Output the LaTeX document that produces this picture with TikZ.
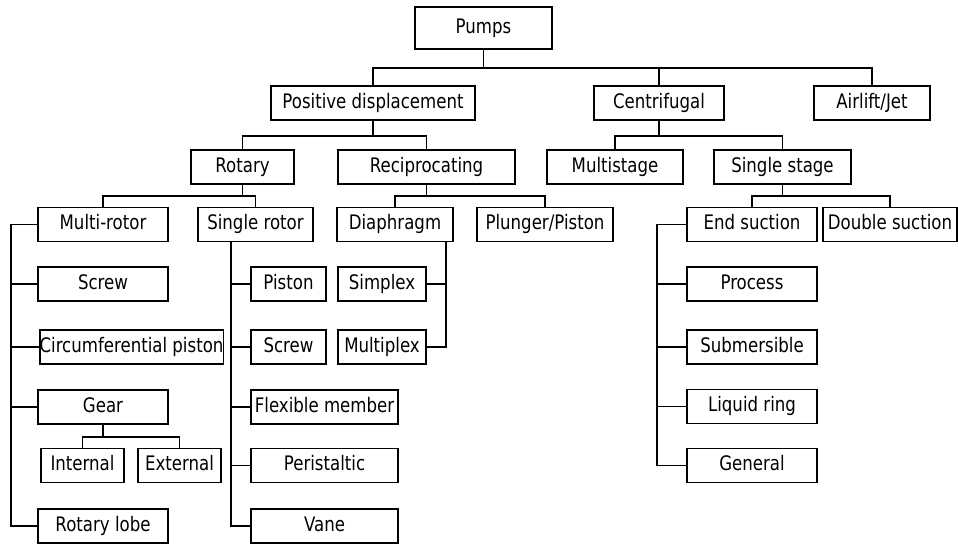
\documentclass[tikz,border=0pt]{standalone}
\usepackage{fontspec}
\setmainfont[FakeStretch=0.83]{DejaVu Sans}
\usetikzlibrary{calc}

\begin{document}
\begin{tikzpicture}[
  x=1pt,y=-1pt,
  box/.style={draw,line width=1.9pt,inner sep=0pt,minimum height=34pt,
    text height=14pt,text depth=3.5pt,font=\fontsize{20}{23}\selectfont},
  link/.style={line width=1.9pt},
]
  \useasboundingbox (0,0) rectangle (958,544);
  % Root
  \node[box,minimum width=137pt,minimum height=42pt] (pumps) at (483.5,28) {Pumps};
  % Level 1
  \node[box,minimum width=204pt] (pd) at (373,103) {Positive displacement};
  \node[box,minimum width=130pt] (cent) at (659,103) {Centrifugal};
  \node[box,minimum width=116pt] (air) at (872,103) {Airlift/Jet};
  % Level 2
  \node[box,minimum width=103pt] (rot) at (242.5,167) {Rotary};
  \node[box,minimum width=177pt] (recip) at (426.5,167) {Reciprocating};
  \node[box,minimum width=136pt] (multi) at (615,167) {Multistage};
  \node[box,minimum width=137pt] (single) at (782.5,167) {Single stage};
  % Level 3
  \node[box,minimum width=130pt] (mr) at (103,224.5) {Multi-rotor};
  \node[box,minimum width=115pt] (sr) at (255.5,224.5) {Single rotor};
  \node[box,minimum width=116pt] (dia) at (395,224.5) {Diaphragm};
  \node[box,minimum width=136pt] (plunger) at (545,224.5) {Plunger/Piston};
  \node[box,minimum width=130pt] (endsuc) at (752,224.5) {End suction};
  \node[box,minimum width=134pt] (dblsuc) at (890,224.5) {Double suction};
  % Multi-rotor types
  \node[box,minimum width=130pt] (screwA) at (103,284) {Screw};
  \node[box,minimum width=183pt] (circ) at (131.5,347) {Circumferential piston};
  \node[box,minimum width=130pt] (gear) at (103,407) {Gear};
  \node[box,minimum width=83pt] (internal) at (82.5,465.5) {Internal};
  \node[box,minimum width=83pt] (external) at (179.5,465.5) {External};
  \node[box,minimum width=130pt] (lobe) at (103,526) {Rotary lobe};
  % Single rotor types
  \node[box,minimum width=75pt] (piston) at (288.5,284) {Piston};
  \node[box,minimum width=75pt] (screwB) at (288.5,347) {Screw};
  \node[box,minimum width=147pt] (flex) at (324.5,407) {Flexible member};
  \node[box,minimum width=147pt] (peri) at (324.5,465.5) {Peristaltic};
  \node[box,minimum width=147pt] (vane) at (324.5,526) {Vane};
  % Diaphragm types
  \node[box,minimum width=88pt] (simplex) at (382,284) {Simplex};
  \node[box,minimum width=88pt] (multiplex) at (382,347) {Multiplex};
  % End suction types
  \node[box,minimum width=130pt] (process) at (752,284) {Process};
  \node[box,minimum width=130pt] (submers) at (752,347) {Submersible};
  \node[box,minimum width=130pt] (liquid) at (752,406.5) {Liquid ring};
  \node[box,minimum width=130pt] (general) at (752,465.5) {General};

  % Tree links
  \draw[link] (pumps.south) -- ++(0,18) coordinate (b0);
  \draw[link] (pd.north) |- (b0) -| (air.north);
  \draw[link] (b0 -| cent.north) -- (cent.north);
  \draw[link] (pd.south) -- ++(0,15) coordinate (b1);
  \draw[link] (rot.north) |- (b1) -| (recip.north);
  \draw[link] (cent.south) -- ++(0,15) coordinate (b2);
  \draw[link] (multi.north) |- (b2) -| (single.north);
  \draw[link] (rot.south) -- ++(0,11) coordinate (b3);
  \draw[link] (mr.north) |- (b3) -| (sr.north);
  \draw[link] (recip.south) -- ++(0,11) coordinate (b4);
  \draw[link] (dia.north) |- (b4) -| (plunger.north);
  \draw[link] (single.south) -- ++(0,11) coordinate (b5);
  \draw[link] (endsuc.north) |- (b5) -| (dblsuc.north);
  \draw[link] (gear.south) -- ++(0,12) coordinate (b6);
  \draw[link] (internal.north) |- (b6) -| (external.north);

  % Side rails
  \draw[link] (mr.west) -- ++(-26,0) coordinate (l1) |- (lobe.west);
  \foreach \n in {screwA,circ,gear}
    \draw[link] (\n.west) -- (\n.west -| l1);
  \coordinate (l2) at ($(piston.west)+(-19,0)$);
  \draw[link] (sr.south -| l2) |- (vane.west);
  \foreach \n in {piston,screwB,flex,peri}
    \draw[link] (\n.west) -- (\n.west -| l2);
  \coordinate (l3) at ($(simplex.east)+(19,0)$);
  \draw[link] (dia.south -| l3) |- (multiplex.east);
  \draw[link] (simplex.east) -- (simplex.east -| l3);
  \draw[link] (endsuc.west) -- ++(-29,0) coordinate (l4) |- (general.west);
  \foreach \n in {process,submers,liquid}
    \draw[link] (\n.west) -- (\n.west -| l4);
\end{tikzpicture}
\end{document}
